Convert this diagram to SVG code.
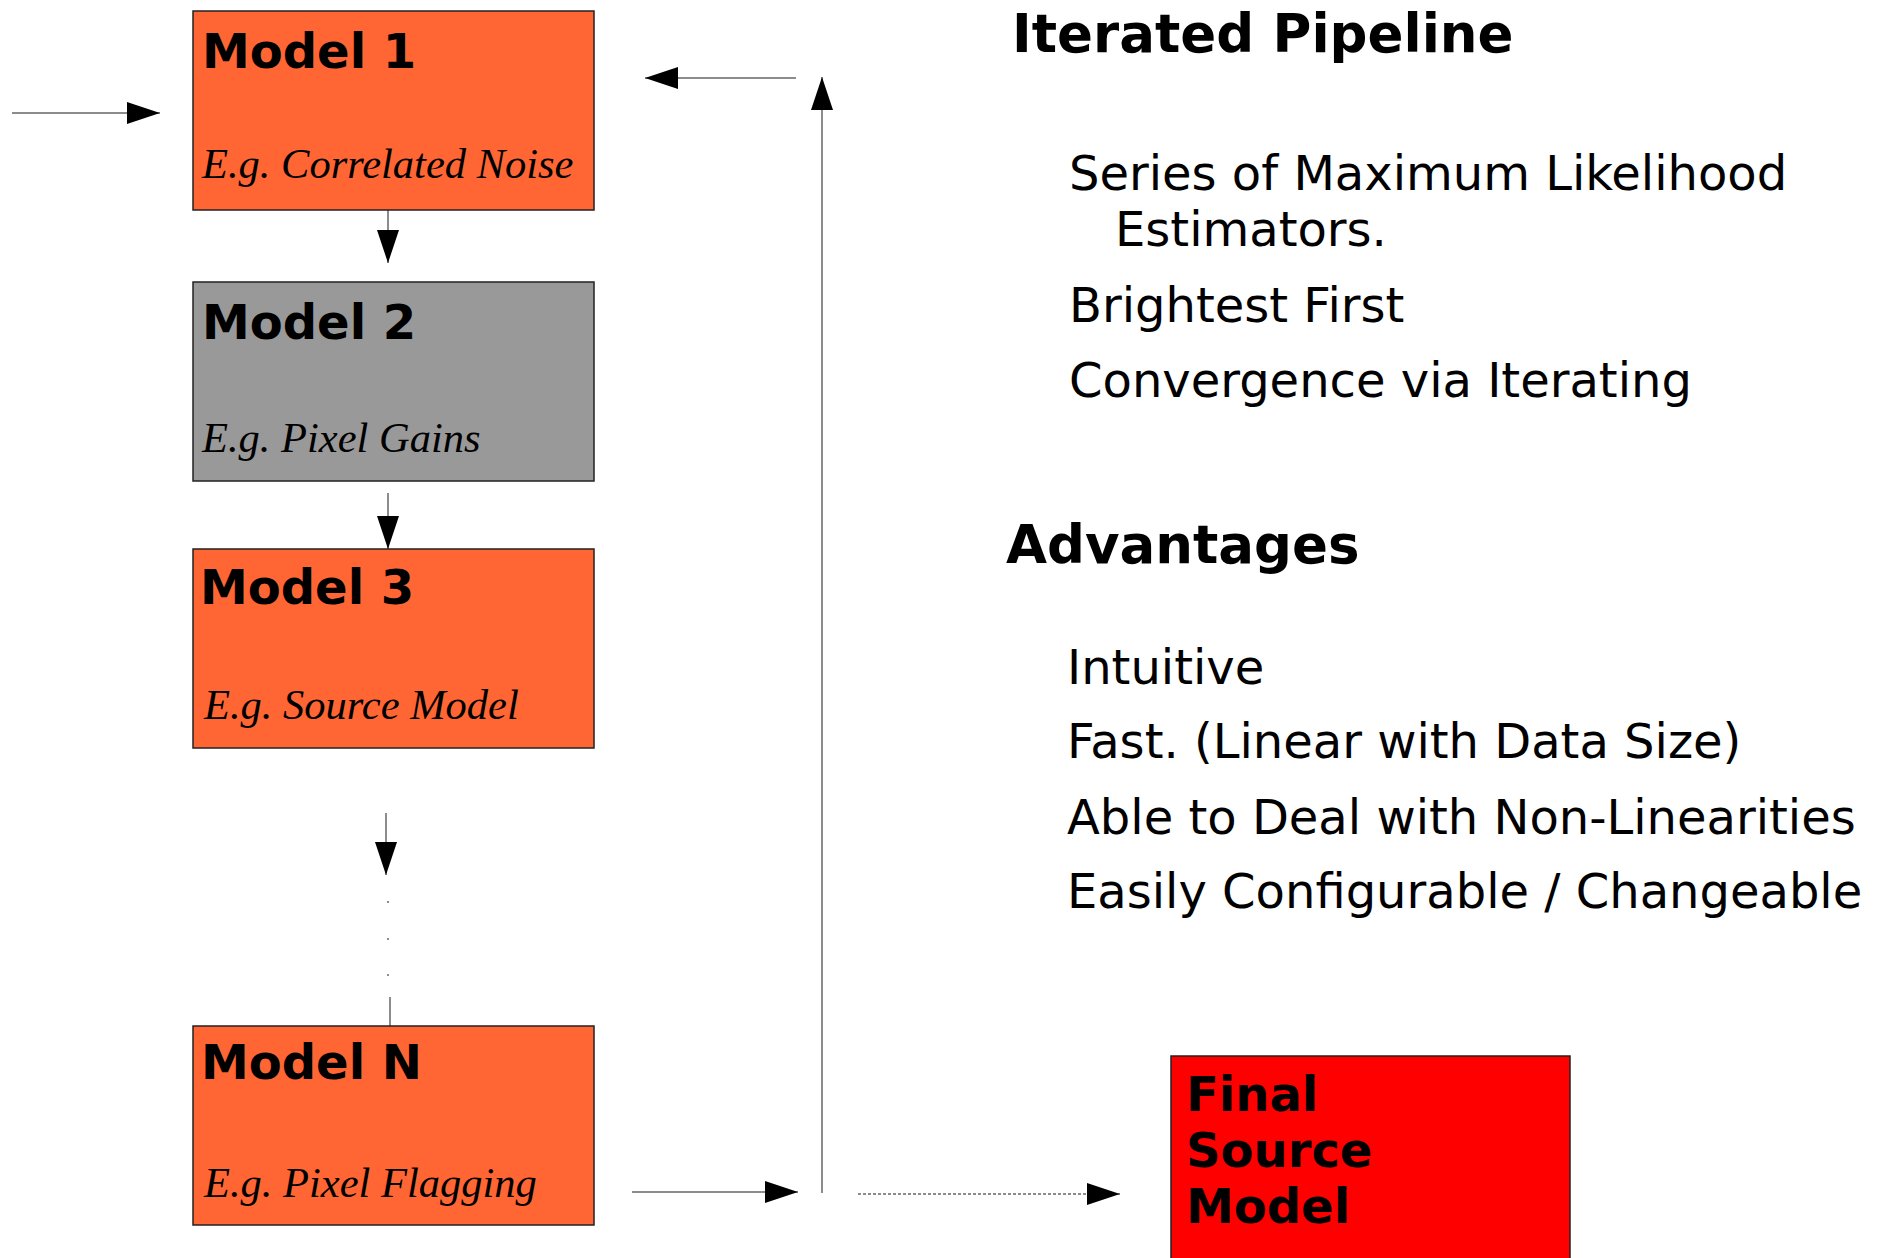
<svg xmlns="http://www.w3.org/2000/svg" width="1877" height="1258" viewBox="0 0 1877 1258">
<style>
.box{stroke:#222;stroke-width:1.5}
.orange{fill:#ff6633}
.gray{fill:#999999}
.red{fill:#ff0000}
.title{font-family:"DejaVu Sans",sans-serif;font-weight:bold;font-size:48px;fill:#000}
.sub{font-family:"Liberation Serif",serif;font-style:italic;font-size:42.5px;fill:#000}
.head{font-family:"DejaVu Sans",sans-serif;font-weight:bold;font-size:53px;fill:#000}
.body{font-family:"DejaVu Sans",sans-serif;font-size:48px;fill:#000}
.conn{stroke:#666;stroke-width:1.5;fill:none}
</style>
<defs>
<marker id="ah" viewBox="0 0 33 22" refX="33" refY="11" markerWidth="33" markerHeight="22" markerUnits="userSpaceOnUse" orient="auto">
<path d="M0,0 L33,11 L0,22 z" fill="#000"/>
</marker>
</defs>
<rect width="1877" height="1258" fill="#fff"/>
<g id="connectors">
<path class="conn" d="M12,113 H160" marker-end="url(#ah)"/>
<path class="conn" d="M388,210 V263" marker-end="url(#ah)"/>
<path class="conn" d="M388,493 V549" marker-end="url(#ah)"/>
<path class="conn" d="M386,813 V875" marker-end="url(#ah)"/>
<circle cx="388" cy="902" r="1" fill="#666"/>
<circle cx="388" cy="939" r="1" fill="#666"/>
<circle cx="388" cy="975" r="1" fill="#666"/>
<path class="conn" d="M390,997 V1026"/>
<path class="conn" d="M632,1192 H798" marker-end="url(#ah)"/>
<path class="conn" d="M822,1193 V77" marker-end="url(#ah)"/>
<path class="conn" d="M796,78 H645" marker-end="url(#ah)"/>
<path class="conn" d="M858,1194 H1120" stroke-dasharray="3,2" marker-end="url(#ah)"/>
</g>
<g id="model1">
<rect class="box orange" x="193" y="11" width="401" height="199"/>
<text class="title" x="202" y="68">Model 1</text>
<text class="sub" x="202" y="178">E.g. Correlated Noise</text>
</g>
<g id="model2">
<rect class="box gray" x="193" y="282" width="401" height="199"/>
<text class="title" x="202" y="339">Model 2</text>
<text class="sub" x="202" y="452">E.g. Pixel Gains</text>
</g>
<g id="model3">
<rect class="box orange" x="193" y="549" width="401" height="199"/>
<text class="title" x="200" y="604">Model 3</text>
<text class="sub" x="204" y="719">E.g. Source Model</text>
</g>
<g id="modelN">
<rect class="box orange" x="193" y="1026" width="401" height="199"/>
<text class="title" x="201" y="1079">Model N</text>
<text class="sub" x="204" y="1197">E.g. Pixel Flagging</text>
</g>
<g id="final">
<rect class="box red" x="1171" y="1056" width="399" height="210"/>
<text class="title" x="1186" y="1111">Final</text>
<text class="title" x="1186" y="1167">Source</text>
<text class="title" x="1186" y="1223">Model</text>
</g>
<g id="notes">
<text class="head" x="1012" y="52">Iterated Pipeline</text>
<text class="body" x="1069" y="190">Series of Maximum Likelihood</text>
<text class="body" x="1115" y="246">Estimators.</text>
<text class="body" x="1069" y="322">Brightest First</text>
<text class="body" x="1069" y="397">Convergence via Iterating</text>
<text class="head" x="1006" y="563">Advantages</text>
<text class="body" x="1067" y="684">Intuitive</text>
<text class="body" x="1067" y="758">Fast. (Linear with Data Size)</text>
<text class="body" x="1067" y="834">Able to Deal with Non-Linearities</text>
<text class="body" x="1067" y="908">Easily Configurable / Changeable</text>
</g>
</svg>
